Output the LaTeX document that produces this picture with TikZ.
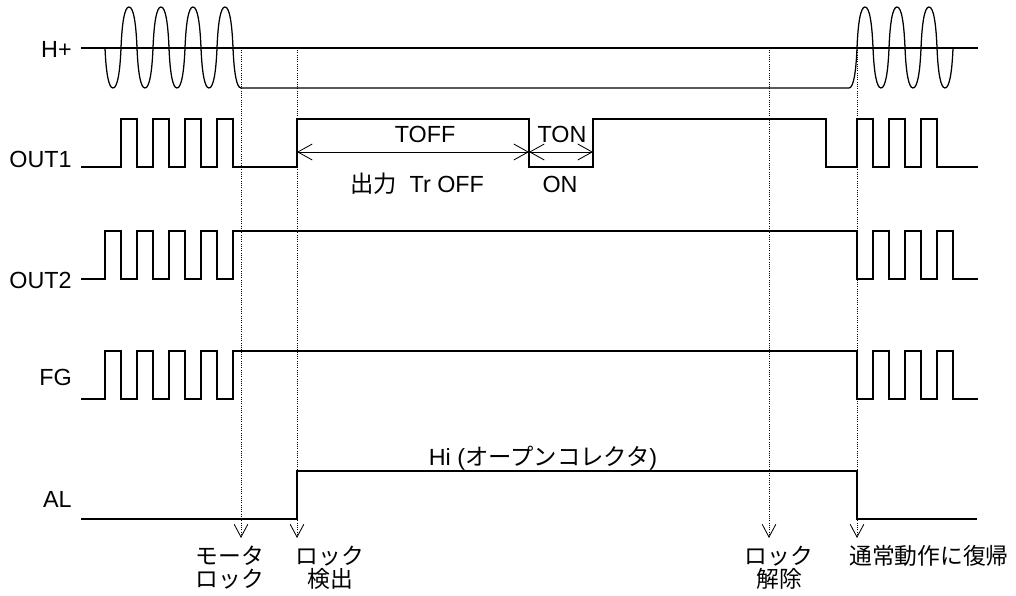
\documentclass[tikz,border=0pt]{standalone}
\usepackage{fontspec}
\setmainfont{Liberation Sans}
\newfontfamily\jp{Noto Sans CJK JP}
\usetikzlibrary{arrows.meta}

\begin{document}
\begin{tikzpicture}[x=0.025cm,y=-0.025cm,
  sig/.style={line width=0.9pt},
  guide/.style={densely dotted,line width=0.6pt,-{Straight Barb[length=3.2mm,width=3.4mm]}},
  span/.style={line width=0.6pt,{Straight Barb[length=3.6mm,width=4mm]}-{Straight Barb[length=3.6mm,width=4mm]}},
  lbl/.style={inner sep=0pt,font=\fontsize{16.6}{18}\selectfont},
  jlbl/.style={inner sep=0pt,align=center,font=\jp\fontsize{16.2}{16.4}\selectfont}]
\useasboundingbox (0,0) rectangle (1016,596);

% signal names
\node[lbl,anchor=base east] (hp) at (72,58) {H+};
\node[lbl,anchor=base east] (out1) at (72,168) {OUT1};
\node[lbl,anchor=base east] (out2) at (72,288) {OUT2};
\node[lbl,anchor=base east] (fg) at (72,385) {FG};
\node[lbl,anchor=base east] (al) at (72,507) {AL};

% event markers
\foreach \n/\x in {mlock/241,ldet/297,lrel/769,norm/857} {
  \coordinate (\n) at (\x,48);
  \coordinate (\n end) at (\x,538);
  \draw[guide] (\n) -- (\n end);
}

% H+ (lobes: down = 88, up = 7)
\draw[sig] (81,48) -- (978,48);
\draw[sig] (105,48) foreach \c in {105,137,169,201} {
    .. controls (\c+1,72) and (\c+3.5,88) .. (\c+8,88)
    .. controls (\c+12.5,88) and (\c+15,72) .. (\c+16,48)
    .. controls (\c+17,23) and (\c+19.5,7) .. (\c+24,7)
    .. controls (\c+28.5,7) and (\c+31,23) .. (\c+32,48)}
  .. controls (234,72) and (236.5,88) .. (241,88) -- (849,88)
  .. controls (853.5,88) and (856,72) .. (857,48) foreach \c in {857,889,921} {
    .. controls (\c+1,23) and (\c+3.5,7) .. (\c+8,7)
    .. controls (\c+12.5,7) and (\c+15,23) .. (\c+16,48)
    .. controls (\c+17,72) and (\c+19.5,88) .. (\c+24,88)
    .. controls (\c+28.5,88) and (\c+31,72) .. (\c+32,48)};

% OUT1
\draw[sig] (81,167) foreach \x in {121,153,185,217} {
    -- (\x,167) -- (\x,119) -- (\x+16,119) -- (\x+16,167)}
  -- (297,167) -- (297,119) -- (529,119) -- (529,167) -- (593,167) -- (593,119)
  -- (826,119) -- (826,167) foreach \x in {857,889,921} {
    -- (\x,167) -- (\x,119) -- (\x+16,119) -- (\x+16,167)}
  -- (978,167);
\draw[span] (297,152) -- (529,152);
\draw[span] (529,152) -- (593,152);
\node[lbl,anchor=base] (toff) at (425,143) {TOFF};
\node[lbl,anchor=base] (ton) at (562,143) {TON};
\node[lbl,anchor=base] (troff) at (417,193) {{\jp 出力}\ \ Tr OFF};
\node[lbl,anchor=base] (tron) at (560,193) {ON};

% OUT2, FG
\foreach \lo/\hi in {279/231,399/351}
  \draw[sig] (81,\lo) foreach \x in {105,137,169,201} {
      -- (\x,\lo) -- (\x,\hi) -- (\x+16,\hi) -- (\x+16,\lo)}
    -- (233,\lo) -- (233,\hi) -- (857,\hi) -- (857,\lo) foreach \x in {873,905,937} {
      -- (\x,\lo) -- (\x,\hi) -- (\x+16,\hi) -- (\x+16,\lo)}
    -- (978,\lo);

% AL
\draw[sig] (81,519) -- (297,519) -- (297,471) -- (857,471) -- (857,519) -- (977,519);
\node[lbl,anchor=base] (hi) at (543,465) {Hi ({\jp オープンコレクタ})};

% event labels
\node[jlbl] (mlockT) at (230,568) {モータ\\ロック};
\node[jlbl] (ldetT) at (330,568) {ロック\\検出};
\node[jlbl] (lrelT) at (779,568) {ロック\\解除};
\node[jlbl] (normT) at (929,556) {通常動作に復帰};
\end{tikzpicture}
\end{document}
